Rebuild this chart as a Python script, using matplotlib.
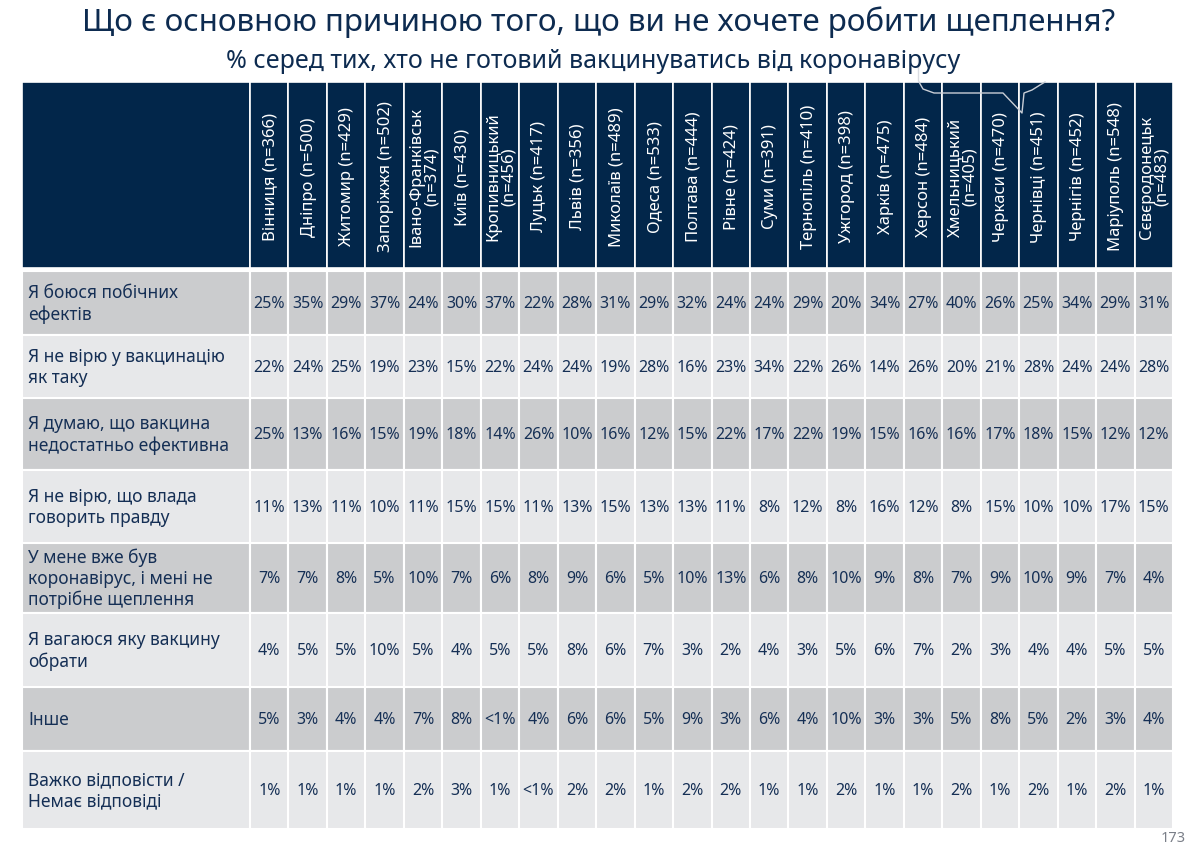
import matplotlib
matplotlib.use("Agg")
import matplotlib.pyplot as plt
from matplotlib.patches import Rectangle
import numpy as np

plt.rcParams['font.family'] = ['Noto Sans', 'DejaVu Sans']

title = "Що є основною причиною того, що ви не хочете робити щеплення?"
subtitle = "% серед тих, хто не готовий вакцинуватись від коронавірусу"
page_number = "173"

cities = ["Вінниця (n=366)", "Дніпро (n=500)", "Житомир (n=429)", "Запоріжжя (n=502)",
          "Івано-Франківськ\n(n=374)", "Київ (n=430)", "Кропивницький\n(n=456)", "Луцьк (n=417)",
          "Львів (n=356)", "Миколаїв (n=489)", "Одеса (n=533)", "Полтава (n=444)",
          "Рівне (n=424)", "Суми (n=391)", "Тернопіль (n=410)", "Ужгород (n=398)",
          "Харків (n=475)", "Херсон (n=484)", "Хмельницький\n(n=405)", "Черкаси (n=470)",
          "Чернівці (n=451)", "Чернігів (n=452)", "Маріуполь (n=548)", "Сєвєродонецьк\n(n=483)"]

reasons = ["Я боюся побічних\nефектів",
           "Я не вірю у вакцинацію\nяк таку",
           "Я думаю, що вакцина\nнедостатньо ефективна",
           "Я не вірю, що влада\nговорить правду",
           "У мене вже був\nкоронавірус, і мені не\nпотрібне щеплення",
           "Я вагаюся яку вакцину\nобрати",
           "Інше",
           "Важко відповісти /\nНемає відповіді"]

side_effects = [25, 35, 29, 37, 24, 30, 37, 22, 28, 31, 29, 32, 24, 24, 29, 20, 34, 27, 40, 26, 25, 34, 29, 31]
no_faith_vaccination = [22, 24, 25, 19, 23, 15, 22, 24, 24, 19, 28, 16, 23, 34, 22, 26, 14, 26, 20, 21, 28, 24, 24, 28]
not_effective = [25, 13, 16, 15, 19, 18, 14, 26, 10, 16, 12, 15, 22, 17, 22, 19, 15, 16, 16, 17, 18, 15, 12, 12]
gov_not_truth = [11, 13, 11, 10, 11, 15, 15, 11, 13, 15, 13, 13, 11, 8, 12, 8, 16, 12, 8, 15, 10, 10, 17, 15]
had_covid = [7, 7, 8, 5, 10, 7, 6, 8, 9, 6, 5, 10, 13, 6, 8, 10, 9, 8, 7, 9, 10, 9, 7, 4]
undecided_vaccine = [4, 5, 5, 10, 5, 4, 5, 5, 8, 6, 7, 3, 2, 4, 3, 5, 6, 7, 2, 3, 4, 4, 5, 5]
other = [5, 3, 4, 4, 7, 8, "<1", 4, 6, 6, 5, 9, 3, 6, 4, 10, 3, 3, 5, 8, 5, 2, 3, 4]
hard_to_say = [1, 1, 1, 1, 2, 3, 1, "<1", 2, 2, 1, 2, 2, 1, 1, 2, 1, 1, 2, 1, 2, 1, 2, 1]

rows = [side_effects, no_faith_vaccination, not_effective, gov_not_truth,
        had_covid, undecided_vaccine, other, hard_to_say]

# ---- layout (pixels) ----
W, H = 1186, 847
fig = plt.figure(figsize=(W / 100, H / 100), dpi=100)
ax = fig.add_axes([0, 0, 1, 1])
ax.set_xlim(0, W)
ax.set_ylim(H, 0)
ax.axis('off')

navy = "#02264a"
text_navy = "#152f55"
row_dark = "#cbccce"
row_light = "#e7e8ea"

table_l, label_r, table_r = 22, 250, 1173
header_t, header_b = 82, 268
row_bounds = [271, 335, 398, 470, 543, 613, 687, 751, 829]
col_edges = np.linspace(label_r, table_r, len(cities) + 1)

# header
ax.add_patch(Rectangle((table_l, header_t), label_r - table_l, header_b - header_t,
                       facecolor=navy, edgecolor='white', linewidth=1.2))
for j, city in enumerate(cities):
    x0, x1 = col_edges[j], col_edges[j + 1]
    ax.add_patch(Rectangle((x0, header_t), x1 - x0, header_b - header_t,
                           facecolor=navy, edgecolor='white', linewidth=1.2))
    ax.text((x0 + x1) / 2 + 1, 177, city, rotation=90, rotation_mode='anchor',
            ha='center', va='center', multialignment='center', color='white',
            fontsize=12, linespacing=0.9)

# body
for i, (reason, vals) in enumerate(zip(reasons, rows)):
    y0, y1 = row_bounds[i], row_bounds[i + 1]
    fc = row_dark if i % 2 == 0 else row_light
    ax.add_patch(Rectangle((table_l, y0), label_r - table_l, y1 - y0,
                           facecolor=fc, edgecolor='white', linewidth=1.5))
    ax.text(table_l + 6, (y0 + y1) / 2 + 1, reason, ha='left', va='center',
            color=text_navy, fontsize=12.5, linespacing=1.2)
    for j, v in enumerate(vals):
        x0, x1 = col_edges[j], col_edges[j + 1]
        ax.add_patch(Rectangle((x0, y0), x1 - x0, y1 - y0,
                               facecolor=fc, edgecolor='white', linewidth=1.5))
        ax.text((x0 + x1) / 2, (y0 + y1) / 2 + 1, f"{v}%", ha='center', va='center',
                color=text_navy, fontsize=11.5)

# callout artifact outline
ax.plot([919, 923, 934, 1003, 1022, 1024, 1032, 1040, 1045],
        [82, 89, 93, 93, 113, 93, 90, 85, 82], color='#c9ced6', lw=1.0)
ax.plot([918, 918], [58, 80], color='#c9ced6', lw=1.0, alpha=0.7)

# titles
ax.text(599, 22, title, ha='center', va='center', color="#0d2b50", fontsize=22.6)
ax.text(593, 61, subtitle, ha='center', va='center', color="#0d2b50", fontsize=18)
ax.text(1186, 838, page_number, ha='right', va='center', color="#7a7f88", fontsize=10.5)

fig.savefig("out.png", dpi=100)
